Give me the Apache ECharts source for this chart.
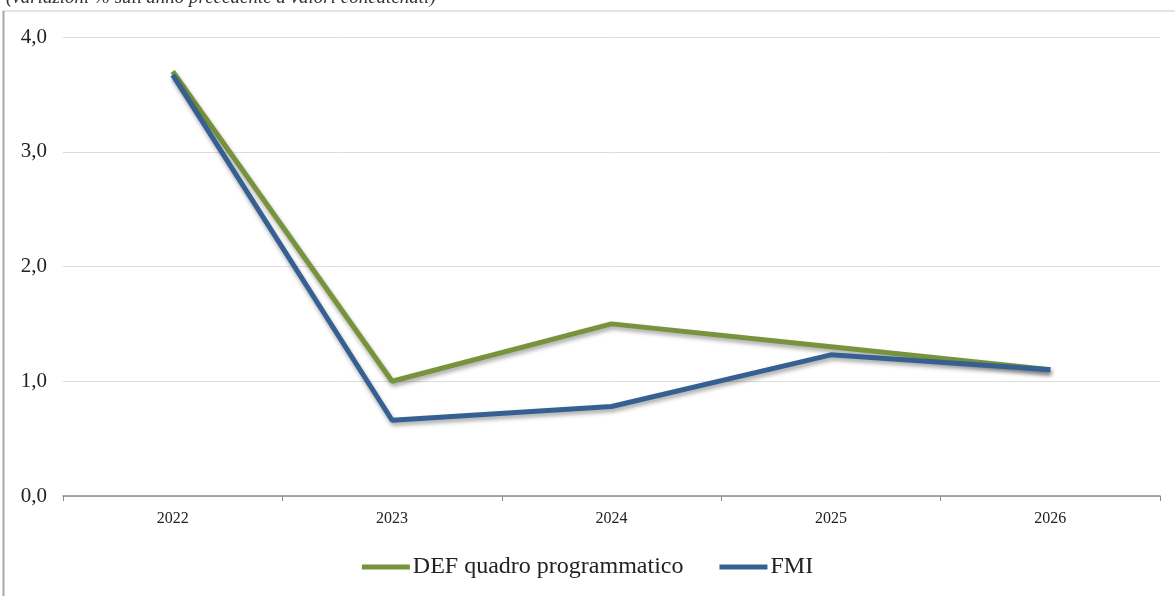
<!DOCTYPE html>
<html>
<head>
<meta charset="utf-8">
<script src="https://cdn.jsdelivr.net/npm/echarts@6/dist/echarts.min.js"></script>
<style>html,body{margin:0;padding:0;background:#fff;}#c{width:1175px;height:596px;}</style>
</head>
<body>
<div id="c"></div>
<script>
const categories = ['2022', '2023', '2024', '2025', '2026'];
const defValues = [3.7, 1.0, 1.5, 1.3, 1.1];
const fmiValues = [3.67, 0.66, 0.78, 1.23, 1.1];
const yTicks = [0, 1, 2, 3, 4];
const seriesNames = ['DEF quadro programmatico', 'FMI'];
const subtitle = "(variazioni % sull'anno precedente a valori concatenati)";

const chart = echarts.init(document.getElementById('c'), null, {renderer: 'canvas'});
const serif = '"Liberation Serif", "DejaVu Serif", serif';
const shadow = {shadowColor: 'rgba(0,0,0,0.35)', shadowBlur: 4, shadowOffsetX: 1, shadowOffsetY: 3};
chart.setOption({
  animation: false,
  backgroundColor: '#fff',
  graphic: [
    {type: 'line', shape: {x1: 3, y1: 11, x2: 1175, y2: 11}, style: {stroke: '#c8c8c8', lineWidth: 1}},
    {type: 'line', shape: {x1: 3.5, y1: 11, x2: 3.5, y2: 596}, style: {stroke: '#a8a8a8', lineWidth: 2}},
    {type: 'text', left: 6, top: -12, style: {text: subtitle, font: 'italic 19px ' + serif, fill: '#333'}}
  ],
  grid: {left: 63, right: 15, top: 37, bottom: 100, containLabel: false},
  legend: {
    data: seriesNames,
    bottom: 12,
    left: 'center',
    itemWidth: 48,
    itemHeight: 5,
    itemGap: 36,
    icon: 'rect',
    textStyle: {fontFamily: serif, fontSize: 24, color: '#222', padding: [0, 0, 0, -2]}
  },
  xAxis: {
    type: 'category',
    data: categories,
    boundaryGap: true,
    axisLine: {lineStyle: {color: '#8a8a8a', width: 1.5}},
    axisTick: {show: true, length: 5, lineStyle: {color: '#8a8a8a'}},
    axisLabel: {fontFamily: serif, fontSize: 16, color: '#222', margin: 15}
  },
  yAxis: {
    type: 'value',
    min: 0, max: 4, interval: 1,
    axisLine: {show: false},
    axisTick: {show: false},
    splitLine: {lineStyle: {color: '#dcdcdc', width: 1}},
    axisLabel: {fontFamily: serif, fontSize: 21, color: '#222', margin: 16,
      formatter: v => yTicks.includes(v) ? v.toFixed(1).replace('.', ',') : ''}
  },
  series: [
    {name: seriesNames[0], type: 'line', data: defValues, symbol: 'none',
      itemStyle: {color: '#77933c'},
      lineStyle: Object.assign({color: '#77933c', width: 5}, shadow)},
    {name: seriesNames[1], type: 'line', data: fmiValues, symbol: 'none',
      itemStyle: {color: '#376092'},
      lineStyle: Object.assign({color: '#376092', width: 5}, shadow)}
  ]
});
</script>
</body>
</html>
